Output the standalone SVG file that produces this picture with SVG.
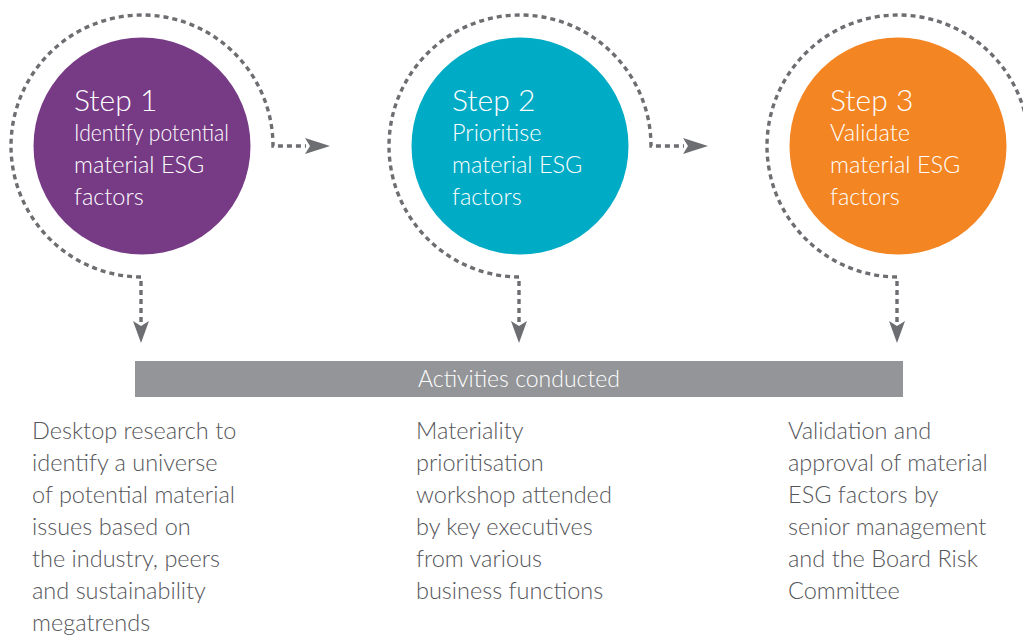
<svg xmlns="http://www.w3.org/2000/svg" width="1023" height="635" viewBox="0 0 1023 635">
<style>
.ring{fill:none;stroke:#6d6e71;stroke-width:3.4;stroke-dasharray:5 4}
.head{fill:#6d6e71}
.title{font-family:Lato,"Liberation Sans",sans-serif;font-size:30px;font-weight:300;fill:#ffffff}
.sub{font-family:Lato,"Liberation Sans",sans-serif;font-size:23.5px;font-weight:300;fill:#ffffff}
.body{font-family:Lato,"Liberation Sans",sans-serif;font-size:23.5px;font-weight:300;fill:#55565a}
.bar{font-family:Lato,"Liberation Sans",sans-serif;font-size:23px;font-weight:300;fill:#ffffff}
</style>
<defs>
<polygon id="ahR" points="0,0 -25,-8 -20,0 -25,8"/>
<polygon id="ahD" points="0,0 -8,-22 0,-17 8,-22"/>
</defs>
<g id="connectors">
<path class="ring" d="M141,322 V277 A131,131 0 1 1 273,146 H306"/>
<use href="#ahR" class="head" x="330" y="146"/>
<use href="#ahD" class="head" x="141" y="343"/>
<path class="ring" d="M519,322 V277 A131,131 0 1 1 651,146 H684"/>
<use href="#ahR" class="head" x="708" y="146"/>
<use href="#ahD" class="head" x="519" y="343"/>
<path class="ring" d="M897,322 V277 A131,131 0 1 1 1029,146"/>
<use href="#ahD" class="head" x="897" y="343"/>
</g>
<g id="step1">
<circle cx="142" cy="146" r="108.5" fill="#773b86"/>
<text class="title" x="74" y="111">Step 1</text>
<text class="sub" x="74" y="141" textLength="155" lengthAdjust="spacingAndGlyphs">Identify potential</text>
<text class="sub" x="74" y="173">material ESG</text>
<text class="sub" x="74" y="205">factors</text>
</g>
<g id="step2">
<circle cx="520" cy="146" r="108.5" fill="#00abc5"/>
<text class="title" x="452" y="111">Step 2</text>
<text class="sub" x="452" y="141">Prioritise</text>
<text class="sub" x="452" y="173">material ESG</text>
<text class="sub" x="452" y="205">factors</text>
</g>
<g id="step3">
<circle cx="898" cy="146" r="108.5" fill="#f38523"/>
<text class="title" x="830" y="111">Step 3</text>
<text class="sub" x="830" y="141">Validate</text>
<text class="sub" x="830" y="173">material ESG</text>
<text class="sub" x="830" y="205">factors</text>
</g>
<g id="activities">
<rect x="135" y="361" width="768" height="36" fill="#939598"/>
<text class="bar" x="519" y="387" text-anchor="middle">Activities conducted</text>
</g>
<g id="desc1" class="body">
<text x="32" y="439">Desktop research to</text>
<text x="32" y="471">identify a universe</text>
<text x="32" y="503">of potential material</text>
<text x="32" y="535">issues based on</text>
<text x="32" y="567">the industry, peers</text>
<text x="32" y="599">and sustainability</text>
<text x="32" y="631">megatrends</text>
</g>
<g id="desc2" class="body">
<text x="416" y="439">Materiality</text>
<text x="416" y="471">prioritisation</text>
<text x="416" y="503">workshop attended</text>
<text x="416" y="535">by key executives</text>
<text x="416" y="567">from various</text>
<text x="416" y="599">business functions</text>
</g>
<g id="desc3" class="body">
<text x="788" y="439">Validation and</text>
<text x="788" y="471">approval of material</text>
<text x="788" y="503">ESG factors by</text>
<text x="788" y="535">senior management</text>
<text x="788" y="567">and the Board Risk</text>
<text x="788" y="599">Committee</text>
</g>
</svg>
